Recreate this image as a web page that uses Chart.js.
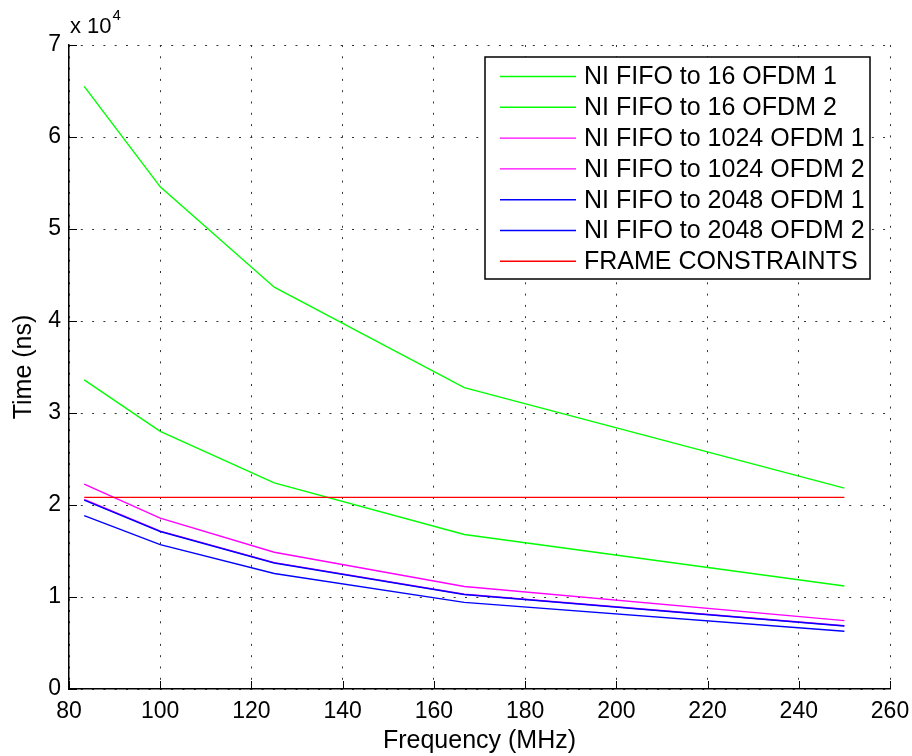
<!DOCTYPE html>
<html>
<head>
<meta charset="utf-8">
<script src="https://cdn.jsdelivr.net/npm/chart.js@4/dist/chart.umd.min.js"></script>
<style>
html,body{margin:0;padding:0;background:#fff;}
#wrap{width:912px;height:756px;position:relative;}
</style>
</head>
<body>
<div id="wrap"><canvas id="c" width="912" height="756"></canvas></div>
<script>
// ---- data ----
const frequencies = [83.33, 100, 125, 166.67, 250];            // MHz
const fifo16_1   = [65500, 54580, 43670, 32750, 21830];         // ns
const fifo16_2   = [33600, 28000, 22400, 16800, 11200];
const fifo1024_1 = [22280, 18570, 14860, 11140, 7430];
const fifo1024_2 = [20600, 17160, 13730, 10300, 6870];
const fifo2048_1 = [20540, 17120, 13700, 10270, 6850];
const fifo2048_2 = [18840, 15700, 12560, 9420, 6280];
const frameFreq  = [83.33, 250];
const frameConstraint = [20833, 20833];
const seriesLabels = ["NI FIFO to 16 OFDM 1","NI FIFO to 16 OFDM 2","NI FIFO to 1024 OFDM 1","NI FIFO to 1024 OFDM 2","NI FIFO to 2048 OFDM 1","NI FIFO to 2048 OFDM 2","FRAME CONSTRAINTS"];
const xTicks = [80,100,120,140,160,180,200,220,240,260];
const yTicks = [0,10000,20000,30000,40000,50000,60000,70000];
const xTitle = "Frequency (MHz)";
const yTitle = "Time (ns)";

const FONT = "'Liberation Sans', Arial, Helvetica, sans-serif";
const colors = ["#00ff00","#00ff00","#ff00ff","#ff00ff","#0000ff","#0000ff","#ff0000"];
const seriesY = [fifo16_1,fifo16_2,fifo1024_1,fifo1024_2,fifo2048_1,fifo2048_2,frameConstraint];
const seriesX = [frequencies,frequencies,frequencies,frequencies,frequencies,frequencies,frameFreq];

const datasets = seriesY.map((ys,i)=>({
  label: seriesLabels[i],
  data: ys.map((y,j)=>({x: seriesX[i][j], y})),
  borderColor: colors[i],
  backgroundColor: colors[i],
  borderWidth: 1.4,
  pointRadius: 0,
  tension: 0,
  fill: false,
  order: seriesY.length - i
}));

const GRID_DASH = [2, 9.3];

const decor = {
  id: 'decor',
  afterDraw(chart){
    const ctx = chart.ctx;
    const a = chart.chartArea;
    const xs = chart.scales.x, ys = chart.scales.y;
    ctx.save();
    // inward ticks
    ctx.strokeStyle = '#000';
    ctx.lineWidth = 1;
    ctx.beginPath();
    xTicks.forEach(v=>{
      const px = Math.round(xs.getPixelForValue(v))+0.5;
      ctx.moveTo(px, a.bottom); ctx.lineTo(px, a.bottom-8);
    });
    yTicks.forEach(v=>{
      const py = Math.round(ys.getPixelForValue(v))+0.5;
      ctx.moveTo(a.left, py); ctx.lineTo(a.left+8, py);
    });
    ctx.stroke();
    // axis titles
    ctx.fillStyle = '#000';
    ctx.font = "25px " + FONT;
    ctx.textAlign = 'center';
    ctx.textBaseline = 'alphabetic';
    ctx.fillText(xTitle, (a.left+a.right)/2, 748);
    ctx.save();
    ctx.translate(31, (a.top+a.bottom)/2);
    ctx.rotate(-Math.PI/2);
    ctx.fillText(yTitle, 0, 0);
    ctx.restore();
    // exponent label
    ctx.textAlign = 'left';
    ctx.font = "22px " + FONT;
    ctx.fillText("x 10", 70, 33);
    const w = ctx.measureText("x 10").width;
    ctx.font = "15px " + FONT;
    ctx.fillText("4", 70 + w + 1, 20);
    // legend
    const L = 485, T = 57, R = 870, B = 279;
    ctx.fillStyle = '#fff';
    ctx.fillRect(L, T, R-L, B-T);
    ctx.strokeStyle = '#000';
    ctx.lineWidth = 1.5;
    ctx.strokeRect(L, T, R-L, B-T);
    const rowH = 30.8, first = 76.5;
    ctx.font = "25px " + FONT;
    ctx.textBaseline = 'middle';
    chart.data.datasets.forEach((ds,i)=>{
      const cy = first + i*rowH;
      ctx.strokeStyle = ds.borderColor;
      ctx.lineWidth = 1.4;
      ctx.beginPath();
      ctx.moveTo(500, cy); ctx.lineTo(576, cy);
      ctx.stroke();
      ctx.fillStyle = '#000';
      ctx.fillText(ds.label, 584, cy+1);
    });
    ctx.restore();
  }
};

new Chart(document.getElementById('c'), {
  type: 'line',
  data: { datasets },
  options: {
    responsive: false,
    animation: false,
    devicePixelRatio: 1,
    layout: { padding: { top: 45, right: 22, left: 0, bottom: 0 } },
    plugins: { legend: { display: false }, tooltip: { enabled: false } },
    scales: {
      x: {
        type: 'linear', min: 80, max: 260,
        afterBuildTicks(s){ s.ticks = xTicks.map(v=>({value:v})); },
        afterFit(s){ s.height = 67; s.paddingRight = 0; s.paddingLeft = 0; },
        grid: { color: '#333', lineWidth: 1, drawTicks: false },
        border: { display: true, color: '#000', width: 1.5, dash: GRID_DASH },
        ticks: { color: '#000', font: { family: FONT, size: 23 }, padding: 9, maxRotation: 0, autoSkip: false }
      },
      y: {
        type: 'linear', min: 0, max: 70000,
        afterBuildTicks(s){ s.ticks = yTicks.map(v=>({value:v})); },
        afterFit(s){ s.width = 69; s.paddingTop = 0; s.paddingBottom = 0; },
        grid: { color: '#333', lineWidth: 1, drawTicks: false },
        border: { display: true, color: '#000', width: 1.5, dash: GRID_DASH },
        ticks: { color: '#000', font: { family: FONT, size: 23 }, padding: 8, autoSkip: false,
          callback: v => String(v/10000) }
      }
    }
  },
  plugins: [decor]
});
</script>
</body>
</html>
